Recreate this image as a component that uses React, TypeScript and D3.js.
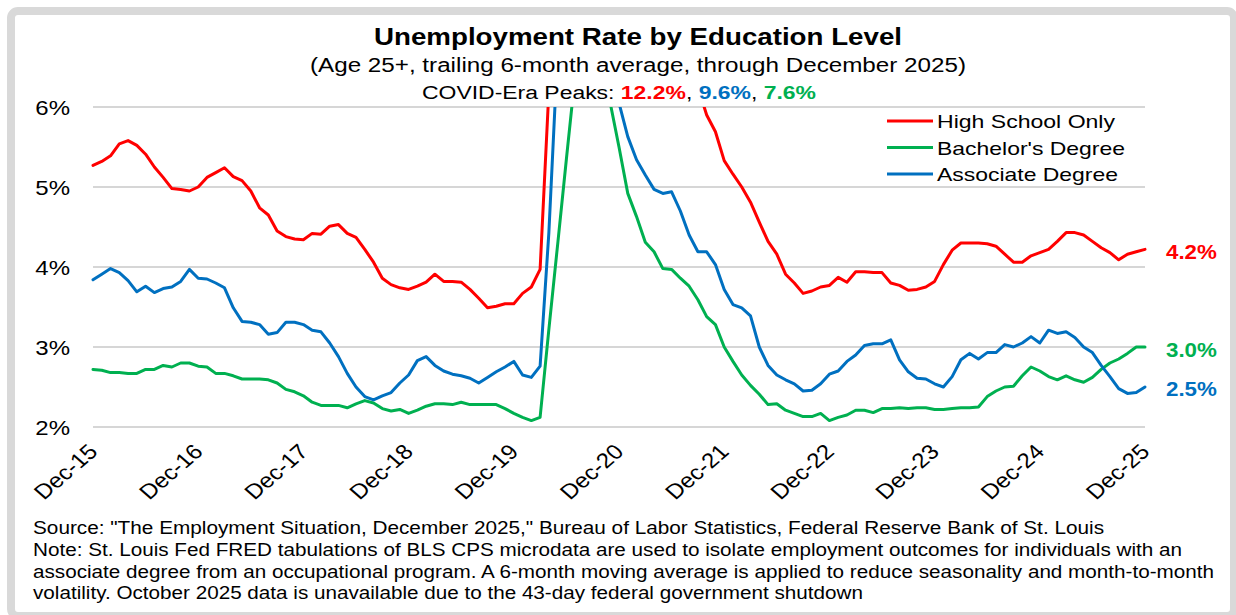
import React from 'react';
import * as d3 from 'd3';

// ---------- DATA (monthly, Dec-2015 .. Dec-2025, trailing 6-month average, %) ----------
const tickLabels = ['Dec-15', 'Dec-16', 'Dec-17', 'Dec-18', 'Dec-19', 'Dec-20', 'Dec-21', 'Dec-22', 'Dec-23', 'Dec-24', 'Dec-25'];
const yTicks = [2, 3, 4, 5, 6];

const highSchool = [
  5.27, 5.32, 5.39, 5.54, 5.58, 5.52, 5.41, 5.25, 5.12, 4.98, 4.97, 4.95,
  5.0, 5.12, 5.18, 5.24, 5.13, 5.08, 4.95, 4.74, 4.65, 4.45, 4.38, 4.35,
  4.34, 4.42, 4.41, 4.51, 4.53, 4.42, 4.37, 4.22, 4.06, 3.86, 3.78, 3.74,
  3.72, 3.76, 3.81, 3.91, 3.82, 3.82, 3.81, 3.72, 3.61, 3.49, 3.51, 3.54,
  3.54, 3.67, 3.75, 3.97, 6.2, 8.0, 9.4, 10.6, 11.6, 12.2, 11.5, 10.5,
  9.6, 8.9, 8.3, 7.8, 7.4, 7.1, 6.9, 6.7, 6.5, 6.25, 5.9, 5.69,
  5.33, 5.16, 5.0, 4.81, 4.56, 4.32, 4.16, 3.91, 3.8, 3.67, 3.7, 3.75,
  3.77, 3.87, 3.81, 3.94, 3.94, 3.93, 3.93, 3.8, 3.77, 3.71, 3.72, 3.75,
  3.82, 4.03, 4.21, 4.3, 4.3, 4.3, 4.29, 4.26, 4.16, 4.06, 4.06, 4.14,
  4.18, 4.22, 4.32, 4.43, 4.43, 4.4, 4.32, 4.24, 4.18, 4.09, 4.16, 4.19,
  4.22,
];

const bachelors = [
  2.72, 2.71, 2.68, 2.68, 2.67, 2.67, 2.72, 2.72, 2.77, 2.75, 2.8, 2.8,
  2.76, 2.75, 2.67, 2.67, 2.64, 2.6, 2.6, 2.6, 2.59, 2.55, 2.47, 2.44,
  2.39, 2.31, 2.27, 2.27, 2.27, 2.24, 2.29, 2.33, 2.3, 2.23, 2.2, 2.22,
  2.17, 2.21, 2.26, 2.29, 2.29, 2.28, 2.31, 2.28, 2.28, 2.28, 2.28, 2.23,
  2.17, 2.12, 2.08, 2.12, 3.22, 4.28, 5.35, 6.4, 7.2, 7.6, 7.1, 6.05,
  5.5, 4.92, 4.63, 4.31, 4.19, 3.98, 3.97, 3.86, 3.76, 3.59, 3.38, 3.28,
  3.0, 2.82, 2.65, 2.52, 2.41, 2.28, 2.29, 2.21, 2.17, 2.13, 2.13, 2.17,
  2.08, 2.12, 2.15, 2.21, 2.21, 2.18, 2.23, 2.23, 2.24, 2.23, 2.24, 2.24,
  2.22, 2.22, 2.23, 2.24, 2.24, 2.25, 2.38, 2.45, 2.5, 2.51, 2.64, 2.75,
  2.7, 2.63, 2.59, 2.64, 2.59, 2.56, 2.62, 2.72, 2.8, 2.85, 2.92, 3.0,
  3.0,
];

const associate = [
  3.84, 3.91, 3.98, 3.93, 3.83, 3.69, 3.76, 3.68, 3.73, 3.75, 3.82, 3.97,
  3.86, 3.85, 3.8, 3.74, 3.49, 3.32, 3.31, 3.28, 3.16, 3.18, 3.31, 3.31,
  3.28, 3.21, 3.19, 3.05, 2.88, 2.67, 2.5, 2.38, 2.34, 2.39, 2.43, 2.55,
  2.65, 2.83, 2.88, 2.77, 2.7, 2.66, 2.64, 2.61, 2.55, 2.62, 2.69, 2.75,
  2.82, 2.65, 2.62, 2.76, 4.43, 6.7, 8.0, 9.0, 9.6, 9.4, 8.5, 7.2,
  6.05, 5.63, 5.34, 5.15, 4.97, 4.92, 4.94, 4.7, 4.4, 4.19, 4.19, 4.03,
  3.72, 3.53, 3.49, 3.39, 3.0, 2.77, 2.65, 2.59, 2.54, 2.45, 2.46, 2.54,
  2.66, 2.7, 2.82, 2.9, 3.02, 3.04, 3.04, 3.09, 2.84, 2.69, 2.61, 2.6,
  2.54, 2.5, 2.63, 2.84, 2.92, 2.85, 2.93, 2.93, 3.03, 3.0, 3.05, 3.13,
  3.05, 3.21, 3.17, 3.19, 3.12, 3.0, 2.93, 2.77, 2.63, 2.48, 2.42, 2.43,
  2.5,
];

const seriesNames = ['High School Only', "Bachelor's Degree", 'Associate Degree'];
const covidPeaks = ['12.2%', '9.6%', '7.6%'];
const footerLines = [
  'Source: "The Employment Situation,  December 2025," Bureau of Labor Statistics, Federal Reserve Bank of St. Louis',
  'Note: St. Louis Fed FRED tabulations of BLS CPS microdata are used to isolate employment outcomes for individuals with an',
  'associate degree from an occupational program. A 6-month moving average is applied to reduce seasonality and month-to-month',
  'volatility.  October 2025 data is unavailable  due to the 43-day federal government shutdown',
];

// ---------- STYLE ----------
const RED = '#FF0000';
const GREEN = '#00B050';
const BLUE = '#0070C0';
const FONT = 'Liberation Sans, Arial, sans-serif';
const SX = 1.2; // horizontal text stretch as in the reference

export default function App() {
  const W = 1236;
  const H = 615;
  const plot = { left: 93, right: 1145, top: 107, bottom: 427 };

  const x = d3.scaleLinear().domain([0, highSchool.length - 1]).range([plot.left, plot.right]);
  const y = d3.scaleLinear().domain([2, 6]).range([plot.bottom, plot.top]);
  const line = d3
    .line<number>()
    .x((_, i) => x(i))
    .y((d) => y(d));

  const series = [
    { name: seriesNames[0], data: highSchool, color: RED, dy: 10 },
    { name: seriesNames[1], data: bachelors, color: GREEN, dy: 10 },
    { name: seriesNames[2], data: associate, color: BLUE, dy: 8.5 },
  ];
  const drawOrder = [1, 2, 0];
  const legendOrder = [0, 1, 2];
  const fmt = d3.format('.1f');

  return (
    <svg
      width={W}
      height={H}
      viewBox={`0 0 ${W} ${H}`}
      style={{ position: 'absolute', left: 0, top: 0, background: '#fff' }}
      fontFamily={FONT}
    >
      <defs>
        <clipPath id="plotClip">
          <rect x={plot.left - 5} y={plot.top} width={plot.right - plot.left + 10} height={plot.bottom - plot.top + 10} />
        </clipPath>
      </defs>
      {/* frame */}
      <rect x={11} y={11} width={1223} height={605} rx={7} fill="#fff" stroke="#d9d9d9" strokeWidth={8} />

      {/* title */}
      <text x={638} y={45} textAnchor="middle" fontSize={24} fontWeight="bold" fill="#000" textLength={528} lengthAdjust="spacingAndGlyphs">
        Unemployment Rate by Education Level
      </text>
      <text x={638} y={72} textAnchor="middle" fontSize={20} fill="#000" textLength={656} lengthAdjust="spacingAndGlyphs">
        (Age 25+, trailing 6-month average, through December 2025)
      </text>
      <text x={422} y={99} fontSize={18} fill="#000" textLength={394} lengthAdjust="spacingAndGlyphs">
        COVID-Era Peaks:{' '}
        <tspan fill={RED} fontWeight="bold">{covidPeaks[0]}</tspan>
        {', '}
        <tspan fill={BLUE} fontWeight="bold">{covidPeaks[1]}</tspan>
        {', '}
        <tspan fill={GREEN} fontWeight="bold">{covidPeaks[2]}</tspan>
      </text>

      {/* gridlines */}
      {yTicks.map((t) => (
        <line key={t} x1={plot.left} x2={plot.right} y1={y(t)} y2={y(t)} stroke="#c8c8c8" strokeWidth={1.5} />
      ))}
      {/* y labels */}
      {yTicks.map((t) => (
        <text key={'yl' + t} transform={`translate(70,${y(t) + 7.5}) scale(${SX},1)`} textAnchor="end" fontSize={20} fill="#000">
          {t}%
        </text>
      ))}
      {/* x labels */}
      {tickLabels.map((lab, k) => (
        <text
          key={lab}
          transform={`translate(${x(k * 12) + 6},${453}) scale(1.15,1) rotate(-45)`}
          textAnchor="end"
          fontSize={21}
          fill="#000"
        >
          {lab}
        </text>
      ))}

      {/* lines */}
      <g clipPath="url(#plotClip)">
        {drawOrder.map((si) => (
          <path
            key={series[si].name}
            d={line(series[si].data) || ''}
            fill="none"
            stroke={series[si].color}
            strokeWidth={3}
            strokeLinejoin="round"
            strokeLinecap="round"
          />
        ))}
      </g>

      {/* end labels */}
      {series.map((s) => {
        const last = s.data[s.data.length - 1];
        return (
          <text
            key={'end' + s.name}
            transform={`translate(1166,${y(last) + s.dy}) scale(${SX * 0.93},1)`}
            fontSize={20}
            fontWeight="bold"
            fill={s.color}
          >
            {fmt(last)}%
          </text>
        );
      })}

      {/* legend */}
      {legendOrder.map((si, r) => {
        const yy = 121 + r * 26.5;
        const lens = [178, 188, 181];
        return (
          <g key={'lg' + si}>
            <line x1={887} x2={933} y1={yy} y2={yy} stroke={series[si].color} strokeWidth={3} />
            <text x={937} y={yy + 7} fontSize={19} fill="#000" textLength={lens[r]} lengthAdjust="spacingAndGlyphs">
              {series[si].name}
            </text>
          </g>
        );
      })}

      {/* footer */}
      {footerLines.map((ln, k) => {
        const lens = [1071, 1149, 1181, 830];
        return (
          <text key={'ft' + k} x={33} y={534 + k * 21.8} fontSize={17.5} fill="#000" textLength={lens[k]} lengthAdjust="spacingAndGlyphs">
            {ln}
          </text>
        );
      })}
    </svg>
  );
}
